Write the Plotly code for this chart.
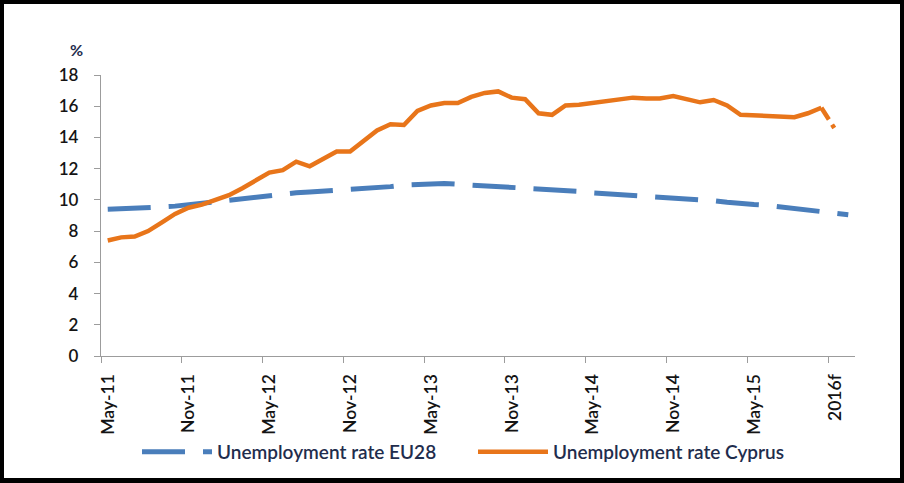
import numpy as np
import plotly.graph_objects as go

# ---- data ----
tick_labels = ["May-11", "Nov-11", "May-12", "Nov-12", "May-13",
               "Nov-13", "May-14", "Nov-14", "May-15", "2016f"]

eu28 = [9.40, 9.42, 9.45, 9.50, 9.55, 9.60, 9.70, 9.80, 9.90, 10.00,
        10.10, 10.15, 10.30, 10.35, 10.45, 10.50, 10.55, 10.60, 10.65, 10.75,
        10.80, 10.85, 10.95, 11.00, 11.05, 11.05, 11.00, 10.95, 10.95, 10.90,
        10.85, 10.80, 10.75, 10.70, 10.60, 10.55, 10.45, 10.40, 10.30, 10.25,
        10.20, 10.15, 10.10, 10.05, 10.00, 9.95, 9.85, 9.75, 9.70, 9.65,
        9.55, 9.45, 9.35, 9.25, 9.20, 9.05]

cyprus = [7.40, 7.60, 7.65, 8.00, 8.55, 9.10, 9.50, 9.70, 10.00, 10.30,
          10.75, 11.25, 11.75, 11.90, 12.45, 12.15, 12.65, 13.10, 13.10, 13.80,
          14.45, 14.85, 14.80, 15.70, 16.05, 16.20, 16.20, 16.60, 16.85, 16.95,
          16.55, 16.45, 15.55, 15.45, 16.05, 16.10, 16.20, 16.30, 16.45, 16.55,
          16.50, 16.50, 16.65, 16.45, 16.25, 16.40, 16.05, 15.45, 15.40, 15.35,
          15.30, 15.30, 15.55, 15.90]
cyprus_forecast = 14.55   # 2016f

y_ticks = list(range(0, 19, 2))

# ---- styling ----
BLUE = "#4A7EBB"
ORANGE = "#E8751A"
TXT = "#141414"
LEG = "#1f2d4d"
AXIS = "#9c9c9c"
FONT = "Lato"

n = len(eu28)
x_eu = np.arange(n)
x_cy = np.arange(len(cyprus))
x_fc = [len(cyprus) - 1, len(cyprus)]
tick_pos = np.arange(0, 6 * len(tick_labels), 6) - 0.5

fig = go.Figure()
fig.add_trace(go.Scatter(
    x=x_eu, y=eu28, mode="lines", name="Unemployment rate EU28",
    line=dict(color=BLUE, width=5, dash="43px,18px")))
fig.add_trace(go.Scatter(
    x=x_cy, y=cyprus, mode="lines", name="Unemployment rate Cyprus",
    line=dict(color=ORANGE, width=4.5)))
fig.add_trace(go.Scatter(
    x=x_fc, y=[cyprus[-1], cyprus_forecast], mode="lines", showlegend=False,
    line=dict(color=ORANGE, width=4.5, dash="14px,6px,4px,10px")))

L, R, T, B = 101, 49, 75, 127
W, H = 904, 483
pw, ph = W - L - R, H - T - B


def px(x):
    return (x - L) / pw


def py(y):
    return (H - B - y) / ph


fig.update_layout(
    width=W, height=H,
    margin=dict(l=L, r=R, t=T, b=B),
    paper_bgcolor="white", plot_bgcolor="white",
    font=dict(family=FONT, size=17, color=TXT, weight=600),
    xaxis=dict(
        range=[-0.5, n - 0.5], showgrid=False, zeroline=False,
        showline=True, linecolor=AXIS, linewidth=1.3,
        ticks="outside", ticklen=6, tickcolor=AXIS, tickwidth=1.3,
        tickmode="array", tickvals=tick_pos, ticktext=tick_labels,
        tickangle=-90, ticklabelshift=7, ticklabelstandoff=4,
        tickfont=dict(family=FONT, size=17.5, color=TXT, weight=600)),
    yaxis=dict(
        range=[0, 18], showgrid=False, zeroline=False,
        showline=True, linecolor=AXIS, linewidth=1.3,
        ticks="outside", ticklen=6, tickcolor=AXIS, tickwidth=1.3,
        tickmode="array", tickvals=y_ticks,
        ticklabelstandoff=12,
        tickfont=dict(family=FONT, size=17, color=TXT, weight=600)),
    legend=dict(
        orientation="h", x=px(137), xanchor="left",
        y=py(452), yanchor="middle",
        itemwidth=70, entrywidth=251,
        font=dict(family=FONT, size=19, color=LEG, weight=600),
        bgcolor="rgba(0,0,0,0)"),
    annotations=[dict(
        text="%", xref="paper", yref="paper",
        x=px(76.5), y=py(50), xanchor="center", yanchor="middle",
        showarrow=False, font=dict(family=FONT, size=16, color=LEG, weight=700))],
    shapes=[dict(
        type="rect", xref="paper", yref="paper",
        x0=px(1.5), x1=px(902.5), y0=py(480.5), y1=py(1.5),
        line=dict(color="black", width=5), fillcolor="rgba(0,0,0,0)")],
)

fig.write_html("out.html",
               config={"displayModeBar": False},
               post_script="document.body.style.margin='0';"
                           "document.body.style.overflow='hidden';")
